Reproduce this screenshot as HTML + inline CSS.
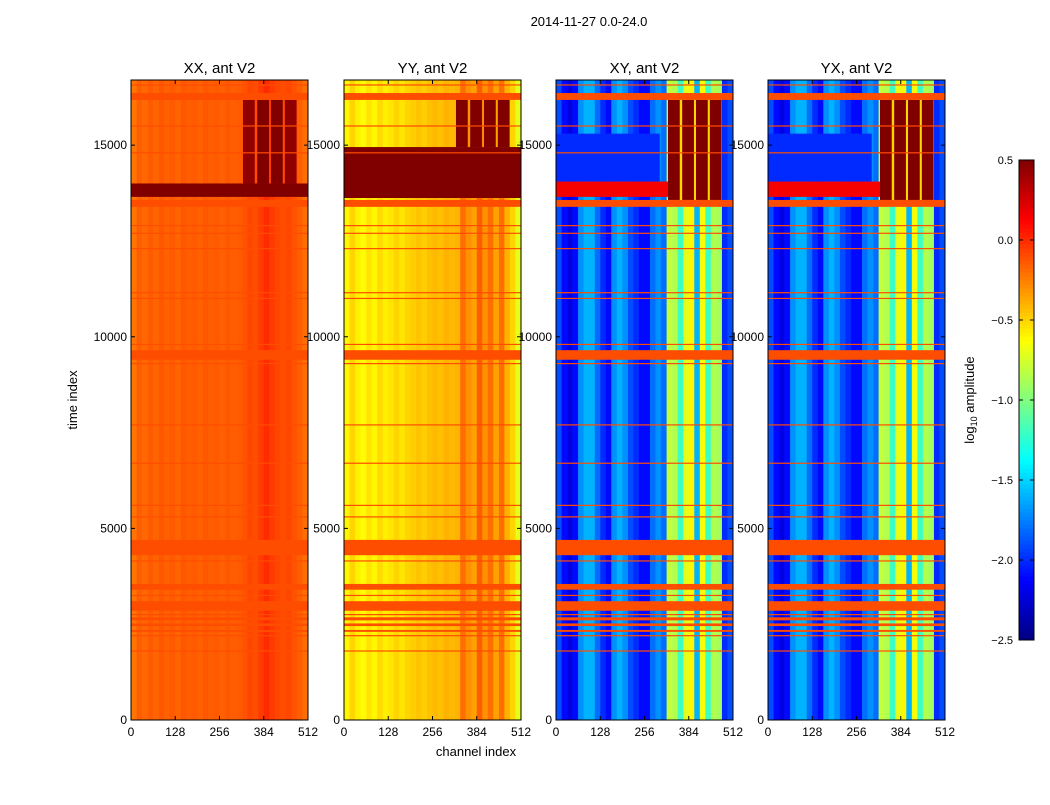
<!DOCTYPE html>
<html><head><meta charset="utf-8">
<style>
body{margin:0;background:#fff;font-family:"Liberation Sans",sans-serif;}
svg text{font-family:"Liberation Sans",sans-serif;}
</style></head>
<body>
<svg id="fig" width="1050" height="800" xmlns="http://www.w3.org/2000/svg">
<rect width="1050" height="800" fill="#fff"/>
<text x="589" y="26" font-size="13" text-anchor="middle">2014-11-27 0.0-24.0</text>
<text x="476" y="756" font-size="13" text-anchor="middle">channel index</text>
<text x="77" y="400" font-size="13" text-anchor="middle" transform="rotate(-90 77 400)">time index</text>
<g id="panels"></g>
<g id="cbar"></g>
</svg>
<script>
// ---- data ----
const panelTitles = ["XX, ant V2","YY, ant V2","XY, ant V2","YX, ant V2"];
const xTicks = [0,128,256,384,512];
const yTicks = [0,5000,10000,15000];
const cbTicks = [0.5,0.0,-0.5,-1.0,-1.5,-2.0,-2.5];
// column profiles: 32 bins of 16 channels (log10 amplitude)
const xxCols = [-0.22,-0.15,-0.18,-0.14,-0.17,-0.13,-0.16,-0.14,-0.17,-0.13,-0.15,-0.14,-0.16,-0.13,-0.15,-0.14,-0.16,-0.13,-0.15,-0.14,-0.12,-0.08,-0.1,-0.05,0.0,-0.05,-0.08,-0.1,-0.08,-0.12,-0.15,-0.2];
const yyCols = [-0.6,-0.5,-0.58,-0.62,-0.55,-0.6,-0.52,-0.58,-0.55,-0.5,-0.55,-0.5,-0.48,-0.45,-0.48,-0.44,-0.42,-0.44,-0.4,-0.42,-0.4,-0.2,-0.3,-0.35,-0.15,-0.3,-0.2,-0.35,-0.2,-0.4,-0.5,-0.7];
const xyCols = [-1.9,-2.1,-2.2,-2.1,-1.7,-1.6,-1.6,-1.8,-2.0,-2.1,-1.7,-1.6,-1.7,-1.9,-2.0,-2.1,-2.1,-1.8,-1.7,-1.8,-0.8,-0.85,-1.2,-0.7,-0.6,-1.6,-0.65,-1.2,-0.85,-0.9,-2.0,-1.9];
// flagged time ranges (all panels)
const flagBands = [[16180,16360],[13390,13570],[9400,9650],[4300,4700],[3400,3550],[2850,3100],[2600,2680],[2450,2520],[2300,2350]];
const flagValue = -0.1;
// thin flagged lines
const thinLines = [16570,15500,14800,12900,12700,12300,11150,11000,9800,9300,7700,6700,5600,5300,4150,3250,2750,2200,1800];
// hot blocks per panel: [t0,t1,ch0,ch1,value]
const blocksXX = [[13650,14000,0,512,0.5],[14000,16180,324,358,0.45],[14000,16180,365,399,0.5],[14000,16180,405,439,0.5],[14000,16180,445,479,0.45]];
const blocksYY = [[13620,14950,0,512,0.5],[14950,16180,324,358,0.5],[14950,16180,365,399,0.5],[14950,16180,405,439,0.5],[14950,16180,445,479,0.5]];
const blocksXY = [[14050,15300,0,300,-2.0],[13650,14050,0,324,0.15],[13570,16180,324,479,-0.5],[13570,16180,324,358,0.5],[13570,16180,365,399,0.5],[13570,16180,405,439,0.5],[13570,16180,445,479,0.5]];
const panelCols = [xxCols,yyCols,xyCols,xyCols];
const panelBlocks = [blocksXX,blocksYY,blocksXY,blocksXY];
// ---- layout ----
const panelX = [131,344,556,768], panelW = 177, plotTop = 80, plotBottom = 720;
const tMax = 16700, vmin = -2.5, vmax = 0.5;
function jet(v){
  let x=(v-vmin)/(vmax-vmin); x=Math.max(0,Math.min(1,x));
  const c=t=>Math.round(255*Math.max(0,Math.min(1,t)));
  return `rgb(${c(1.5-Math.abs(4*x-3))},${c(1.5-Math.abs(4*x-2))},${c(1.5-Math.abs(4*x-1))})`;
}
const NS="http://www.w3.org/2000/svg";
function mk(tag,attrs,parent){const e=document.createElementNS(NS,tag);for(const k in attrs)e.setAttribute(k,attrs[k]);parent.appendChild(e);return e;}
const G=document.getElementById('panels');
panelTitles.forEach((title,p)=>{
  const x0=panelX[p];
  const xs=ch=>x0+ch/512*panelW;
  const ys=t=>plotBottom-t/tMax*(plotBottom-plotTop);
  const g=mk('g',{},G);
  
  
  panelCols[p].forEach((v,i)=>{
    const r=mk('rect',{x:xs(i*16),y:plotTop,width:xs((i+1)*16)-xs(i*16)+0.3,height:plotBottom-plotTop,fill:jet(v)},g);
    
    
  });
  panelBlocks[p].forEach(b=>{
    const r=mk('rect',{x:xs(b[2]),y:ys(b[1]),width:xs(b[3])-xs(b[2]),height:ys(b[0])-ys(b[1]),fill:jet(b[4])},g);
    
    
  });
  flagBands.forEach(b=>{
    const r=mk('rect',{x:x0,y:ys(b[1]),width:panelW,height:ys(b[0])-ys(b[1]),fill:jet(flagValue)},g);
    
    
  });
  thinLines.forEach(t=>{
    const r=mk('rect',{x:x0,y:ys(t)-0.6,width:panelW,height:1.2,fill:jet(flagValue)},g);
    
    
  });
  const fr=mk('rect',{x:x0,y:plotTop,width:panelW,height:plotBottom-plotTop,fill:'none',stroke:'#000','stroke-width':1},g);
  
  
  const tt=mk('text',{x:x0+panelW/2,y:plotTop-7,'font-size':15,'text-anchor':'middle'},g);
  tt.textContent=title;
  
  
  xTicks.forEach(v=>{
    mk('line',{x1:xs(v),x2:xs(v),y1:plotBottom,y2:plotBottom-4,stroke:'#000'},g);
    mk('line',{x1:xs(v),x2:xs(v),y1:plotTop,y2:plotTop+4,stroke:'#000'},g);
    const t=mk('text',{x:xs(v),y:plotBottom+16,'font-size':12,'text-anchor':'middle'},g);
    t.textContent=v;
    
    
  });
  yTicks.forEach(v=>{
    mk('line',{x1:x0,x2:x0+4,y1:ys(v),y2:ys(v),stroke:'#000'},g);
    mk('line',{x1:x0+panelW,x2:x0+panelW-4,y1:ys(v),y2:ys(v),stroke:'#000'},g);
    const t=mk('text',{x:x0-4,y:ys(v)+4,'font-size':12,'text-anchor':'end'},g);
    t.textContent=v;
    
    
  });
});
// colorbar
const C=document.getElementById('cbar');


const cbX=1019,cbW=15,cbTop=160,cbBot=640;
const cy=v=>cbBot-(v-vmin)/(vmax-vmin)*(cbBot-cbTop);
const N=120;
for(let i=0;i<N;i++){
  const v0=vmin+(vmax-vmin)*i/N, v1=vmin+(vmax-vmin)*(i+1)/N;
  mk('rect',{x:cbX,y:cy(v1),width:cbW,height:cy(v0)-cy(v1)+0.5,fill:jet((v0+v1)/2)},C);
}
mk('rect',{x:cbX,y:cbTop,width:cbW,height:cbBot-cbTop,fill:'none',stroke:'#000'},C);
cbTicks.forEach(v=>{
  mk('line',{x1:cbX,x2:cbX+4,y1:cy(v),y2:cy(v),stroke:'#000'},C);
  mk('line',{x1:cbX+cbW,x2:cbX+cbW-4,y1:cy(v),y2:cy(v),stroke:'#000'},C);
  const t=mk('text',{x:cbX-6,y:cy(v)+4,'font-size':11,'text-anchor':'end'},C);
  t.textContent=(v<0?'\u2212':'')+Math.abs(v).toFixed(1);
  
  
});
const cl=mk('text',{x:974,y:400,'font-size':13,'text-anchor':'middle',transform:'rotate(-90 974 400)'},C);
cl.innerHTML='log<tspan font-size="9" dy="3">10</tspan><tspan dy="-3"> amplitude</tspan>';


</script>
</body></html>
